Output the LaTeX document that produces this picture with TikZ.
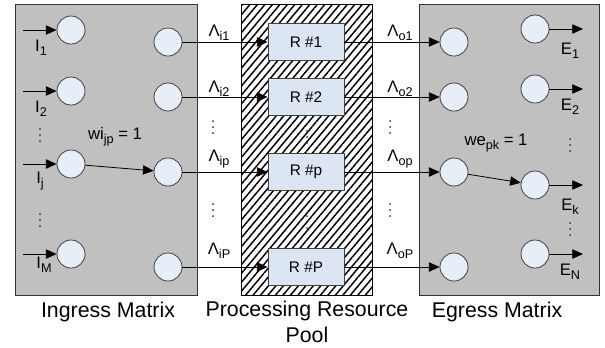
\documentclass[tikz,border=0pt]{standalone}
\usepackage{fontspec}
\setmainfont{Liberation Sans}
\usetikzlibrary{arrows.meta,patterns.meta}
\newcommand\sbs[1]{\raisebox{-0.45ex}{\fontsize{9.5}{10}\selectfont #1}}
\newcommand\vdts[2]{\fill[black!80] (#1,#2-6) circle (0.75pt) (#1,#2) circle (0.75pt) (#1,#2+6) circle (0.75pt);}
\definecolor{matgray}{HTML}{C0C0C0}
\definecolor{nodefill}{HTML}{E8EEF8}
\definecolor{boxfill}{HTML}{DCE6F2}
\begin{document}
\begin{tikzpicture}[x=0.75pt,y=-0.75pt,
  mat/.style={draw=black!80, fill=matgray, line width=0.6pt},
  nd/.style={circle, draw=black!75, fill=nodefill, minimum size=21pt, inner sep=0pt, line width=0.6pt},
  rbox/.style={draw=black!75, fill=boxfill, minimum width=57pt, minimum height=27.75pt, inner sep=0pt, line width=0.6pt, font=\fontsize{11.5}{13}\selectfont},
  lbl/.style={font=\fontsize{12.5}{14}\selectfont, inner sep=0pt},
  big/.style={font=\fontsize{16}{19}\selectfont, inner sep=0pt, align=center},
  arr/.style={-{Triangle[length=8pt,width=7pt]}, line width=0.6pt},
  ln/.style={line width=0.6pt}
]
\useasboundingbox (0,0) rectangle (605,347);
% panels
\draw[mat] (15,4) rectangle (197,295);
\draw[line width=0.6pt, fill=white, postaction={pattern={Lines[angle=50,distance=4.3pt,line width=1.1pt]}}] (241,4) rectangle (372,295);
\draw[mat] (419,4) rectangle (599,295);

% ingress nodes
\node[nd] (a1) at (71,30) {};
\node[nd] (a2) at (71,91) {};
\node[nd] (aj) at (71,164) {};
\node[nd] (aM) at (71,254) {};
\node[nd] (b1) at (168,42) {};
\node[nd] (b2) at (168,97) {};
\node[nd] (bp) at (168,172) {};
\node[nd] (bP) at (168,267) {};
% resources
\node[rbox] (r1) at (306,42) {R \#1};
\node[rbox] (r2) at (306,97) {R \#2};
\node[rbox] (rp) at (306,172) {R \#p};
\node[rbox] (rP) at (306,267) {R \#P};
% egress nodes
\node[nd] (c1) at (454,42) {};
\node[nd] (c2) at (454,97) {};
\node[nd] (cp) at (454,172) {};
\node[nd] (cP) at (454,267) {};
\node[nd] (d1) at (535,29) {};
\node[nd] (d2) at (535,89) {};
\node[nd] (dk) at (535,185) {};
\node[nd] (dN) at (535,254) {};

% input / output coordinates
\coordinate (i1) at (23,30);
\coordinate (i2) at (23,91);
\coordinate (ij) at (23,164);
\coordinate (iM) at (23,254);
\coordinate (e1) at (583,29);
\coordinate (e2) at (583,89);
\coordinate (ek) at (583,185);
\coordinate (eN) at (583,254);

% connectors
\draw[arr] (i1) -- (a1);
\draw[arr] (i2) -- (a2);
\draw[arr] (ij) -- (aj);
\draw[arr] (iM) -- (aM);
\draw[arr] (aj) -- (bp);
\draw[arr] (b1) -- (r1);
\draw[arr] (b2) -- (r2);
\draw[arr] (bp) -- (rp);
\draw[arr] (bP) -- (rP);
\draw[arr] (r1) -- (c1);
\draw[arr] (r2) -- (c2);
\draw[arr] (rp) -- (cp);
\draw[arr] (rP) -- (cP);
\draw[arr] (cp) -- (dk);
\draw[arr] (d1) -- (e1);
\draw[arr] (d2) -- (e2);
\draw[arr] (dk) -- (ek);
\draw[arr] (dN) -- (eN);

% vertical dots
\vdts{40}{135}
\vdts{40}{220}
\vdts{213}{127}
\vdts{213}{210}
\vdts{390}{127}
\vdts{390}{210}
\vdts{307}{137}
\vdts{307}{222}
\vdts{570}{145}
\vdts{570}{229}

% input labels
\node[lbl] (l1) at (41,48) {I\sbs{1}};
\node[lbl] (l2) at (41,109) {I\sbs{2}};
\node[lbl] (lj) at (40,181) {I\sbs{j}};
\node[lbl] (lM) at (44,265) {I\sbs{M}};
\node[lbl] (wi) at (115,137) {wi\sbs{jp} = 1};

% lambda labels
\node[lbl] (li1) at (219,33) {Λ\sbs{i1}};
\node[lbl] (li2) at (219,89) {Λ\sbs{i2}};
\node[lbl] (lip) at (219,159) {Λ\sbs{ip}};
\node[lbl] (liP) at (219,251) {Λ\sbs{iP}};
\node[lbl] (lo1) at (400,33) {Λ\sbs{o1}};
\node[lbl] (lo2) at (400,89) {Λ\sbs{o2}};
\node[lbl] (lop) at (400,159) {Λ\sbs{op}};
\node[lbl] (loP) at (400,251) {Λ\sbs{oP}};

% egress labels
\node[lbl] (m1) at (570,51) {E\sbs{1}};
\node[lbl] (m2) at (570,107) {E\sbs{2}};
\node[lbl] (mk) at (570,207) {E\sbs{k}};
\node[lbl] (mN) at (570,272) {E\sbs{N}};
\node[lbl] (we) at (496,143) {we\sbs{pk} = 1};

% titles
\node[big] (t1) at (108,312) {Ingress Matrix};
\node[big, anchor=north] (t2) at (307,301) {Processing Resource\\Pool};
\node[big] (t3) at (497,312) {Egress Matrix};
\end{tikzpicture}
\end{document}
